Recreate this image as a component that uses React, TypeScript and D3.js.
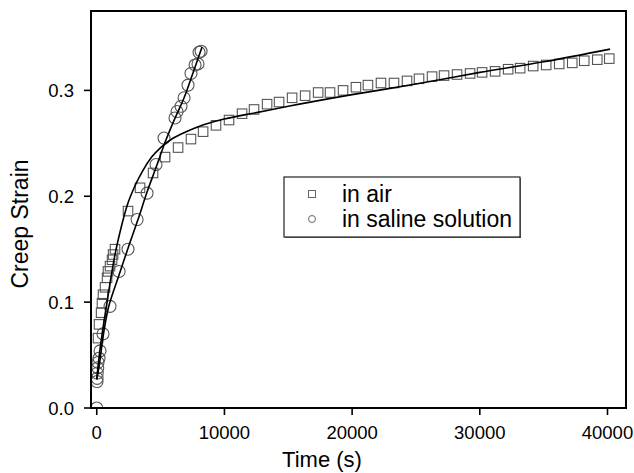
import React from "react";
import * as d3 from "d3";

const airT = [100, 180, 340, 410, 490, 650, 810, 880, 1040, 1200, 1280, 1430, 2450, 3390, 4410, 5350, 6370, 7380, 8330, 9340, 10360, 11380, 12320, 13340, 14280, 15300, 16320, 17340, 18270, 19290, 20300, 21240, 22260, 23280, 24300, 25240, 26260, 27200, 28220, 29240, 30180, 31200, 32220, 33160, 34180, 35200, 36220, 37240, 38180, 39200, 40140];
const airV = [0.066, 0.079, 0.090, 0.099, 0.107, 0.114, 0.123, 0.129, 0.134, 0.140, 0.145, 0.150, 0.186, 0.208, 0.222, 0.237, 0.246, 0.254, 0.261, 0.267, 0.272, 0.278, 0.282, 0.287, 0.289, 0.293, 0.295, 0.298, 0.298, 0.300, 0.303, 0.305, 0.307, 0.307, 0.309, 0.311, 0.313, 0.314, 0.315, 0.316, 0.317, 0.318, 0.320, 0.321, 0.323, 0.324, 0.325, 0.326, 0.328, 0.329, 0.330];

const salT = [0, 20, 30, 40, 80, 100, 180, 260, 490, 1040, 1750, 2450, 3160, 3940, 4640, 5270, 6130, 6290, 6600, 6840, 7150, 7380, 7700, 7930, 8010, 8170];
const salV = [0, 0.025, 0.028, 0.033, 0.038, 0.043, 0.047, 0.054, 0.070, 0.096, 0.129, 0.150, 0.178, 0.203, 0.230, 0.255, 0.274, 0.280, 0.285, 0.293, 0.305, 0.316, 0.324, 0.325, 0.336, 0.337];

const airFitT = [0, 200, 400, 700, 1000, 1400, 1900, 2400, 3000, 3600, 4300, 5000, 6000, 7000, 8000, 10000, 12500, 15000, 20000, 25000, 30000, 35000, 40200];
const airFitV = [0.027, 0.050, 0.068, 0.092, 0.115, 0.143, 0.170, 0.192, 0.210, 0.224, 0.237, 0.246, 0.255, 0.261, 0.266, 0.273, 0.279, 0.285, 0.296, 0.306, 0.317, 0.327, 0.339];

const salFitT = [0, 180, 490, 880, 1300, 1700, 2450, 3230, 3940, 4700, 5350, 6100, 6840, 7550, 8250];
const salFitV = [0.027, 0.039, 0.067, 0.093, 0.110, 0.124, 0.151, 0.178, 0.204, 0.229, 0.251, 0.273, 0.293, 0.317, 0.341];

const xTicks = [0, 10000, 20000, 30000, 40000];
const yTicks = [0.0, 0.1, 0.2, 0.3];
const legendLabels = ["in air", "in saline solution"];

const W = 634, H = 473;
const L = 91, R = 626, T = 11, B = 408;
const FONT = "'Liberation Sans', Arial, Helvetica, sans-serif";

export default function App() {
  const x = d3.scaleLinear().domain([-450, 41450]).range([L, R]);
  const y = d3.scaleLinear().domain([0, 0.375]).range([B, T]);
  const line = d3.line<[number, number]>().x(d => x(d[0])).y(d => y(d[1])).curve(d3.curveMonotoneX);
  const airFit = line(airFitT.map((t, i) => [t, airFitV[i]]) as [number, number][]) || "";
  const salFit = line(salFitT.map((t, i) => [t, salFitV[i]]) as [number, number][]) || "";
  const sq = 9.5;
  const markerColor = "#555";
  return (
    <svg width={W} height={H} style={{ position: "absolute", left: 0, top: 0, background: "#fff" }} fontFamily={FONT}>
      <defs>
        <clipPath id="plotClip">
          <rect x={L} y={T} width={R - L} height={B - T} />
        </clipPath>
      </defs>
      <rect x={0} y={0} width={W} height={H} fill="#fff" />
      <g clipPath="url(#plotClip)">
        {airT.map((t, i) => (
          <rect key={"a" + i} x={x(t) - sq / 2} y={y(airV[i]) - sq / 2} width={sq} height={sq}
            fill="none" stroke={markerColor} strokeWidth={1.1} />
        ))}
        {salT.map((t, i) => (
          <circle key={"s" + i} cx={x(t)} cy={y(salV[i])} r={6}
            fill="none" stroke={markerColor} strokeWidth={1.1} />
        ))}
        <path d={airFit} fill="none" stroke="#000" strokeWidth={1.6} />
        <path d={salFit} fill="none" stroke="#000" strokeWidth={1.6} />
      </g>
      {/* frame */}
      <rect x={L} y={T} width={R - L} height={B - T} fill="none" stroke="#000" strokeWidth={2} />
      {/* y ticks */}
      {yTicks.map(v => (
        <g key={"y" + v}>
          <line x1={L - 7} x2={L} y1={y(v)} y2={y(v)} stroke="#000" strokeWidth={1.6} />
          <text x={L - 17} y={y(v)} dy="0.36em" textAnchor="end" fontSize={18.5} fill="#000">{d3.format(".1f")(v)}</text>
        </g>
      ))}
      {/* x ticks */}
      {xTicks.map(v => (
        <g key={"x" + v}>
          <line x1={x(v)} x2={x(v)} y1={B} y2={B + 7} stroke="#000" strokeWidth={1.6} />
          <text x={x(v)} y={B + 31} textAnchor="middle" fontSize={18.5} fill="#000">{String(v)}</text>
        </g>
      ))}
      <text x={322} y={467} textAnchor="middle" fontSize={22} fill="#000">Time (s)</text>
      <text transform={`translate(28,${224}) rotate(-90)`} textAnchor="middle" fontSize={23} fill="#000">Creep Strain</text>
      {/* legend */}
      <g>
        <rect x={284} y={177} width={236} height={60} fill="#fff" stroke="#222" strokeWidth={1.2} />
        <line x1={285} x2={521} y1={237.5} y2={237.5} stroke="#444" strokeWidth={1} />
        <line x1={520.5} x2={520.5} y1={178} y2={238} stroke="#444" strokeWidth={1} />
        <rect x={312 - 3.5} y={194 - 3.5} width={7} height={7} fill="none" stroke="#666" strokeWidth={1} />
        <circle cx={312} cy={219} r={3.5} fill="none" stroke="#666" strokeWidth={1} />
        <text x={342} y={202} fontSize={23} fill="#000">{legendLabels[0]}</text>
        <text x={342} y={227} fontSize={23} fill="#000">{legendLabels[1]}</text>
      </g>
    </svg>
  );
}
